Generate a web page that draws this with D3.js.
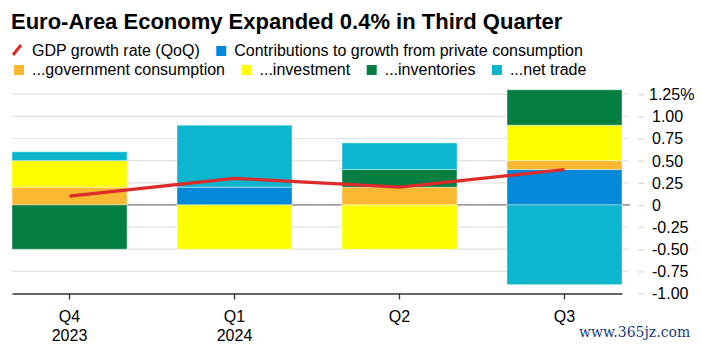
<!DOCTYPE html>
<html>
<head>
<meta charset="utf-8">
<script src="https://cdn.jsdelivr.net/npm/d3@7"></script>
<style>
  body { margin: 0; background: #fff; }
  svg { display: block; font-family: "Liberation Sans", Arial, sans-serif; }
</style>
</head>
<body>
<script>
// data (percentage points)
var quarters = ["Q4", "Q1", "Q2", "Q3"];
var years = ["2023", "2024", "", ""];
var gdp = [0.1, 0.3, 0.2, 0.4];
var privateCons = [0, 0.2, 0, 0.4];
var govCons = [0.2, 0, 0.2, 0.1];
var investment = [0.3, -0.5, -0.5, 0.4];
var inventories = [-0.5, 0, 0.2, 0.4];
var netTrade = [0.1, 0.7, 0.3, -0.9];
var yTicks = [-1, -0.75, -0.5, -0.25, 0, 0.25, 0.5, 0.75, 1, 1.25];

var keys = ["privateCons", "govCons", "investment", "inventories", "netTrade"];
var colors = {
  privateCons: "#0389d9",
  govCons: "#fbb832",
  investment: "#ffff00",
  inventories: "#037f41",
  netTrade: "#0cb6cf"
};
var legendRows = [
  [{type: "line", label: "GDP growth rate (QoQ)"},
   {key: "privateCons", label: "Contributions to growth from private consumption"}],
  [{key: "govCons", label: "...government consumption"},
   {key: "investment", label: "...investment"},
   {key: "inventories", label: "...inventories"},
   {key: "netTrade", label: "...net trade"}]
];

var table = quarters.map(function(q, i) {
  return {q: q, year: years[i], gdp: gdp[i], privateCons: privateCons[i],
          govCons: govCons[i], investment: investment[i],
          inventories: inventories[i], netTrade: netTrade[i]};
});

var W = 702, H = 347;
var svg = d3.select("body").append("svg")
  .attr("width", W).attr("height", H);

// title
svg.append("text")
  .attr("x", 11).attr("y", 29)
  .style("font-size", "22px").style("font-weight", "bold")
  .attr("fill", "#000")
  .text("Euro-Area Economy Expanded 0.4% in Third Quarter");

// legend
legendRows.forEach(function(row, r) {
  var x = 13;
  var base = 56 + r * 19;
  row.forEach(function(item) {
    if (item.type === "line") {
      svg.append("line")
        .attr("x1", x).attr("y1", base - 1)
        .attr("x2", x + 8).attr("y2", base - 11)
        .attr("stroke", "#dd2a2a").attr("stroke-width", 3);
    } else {
      svg.append("rect")
        .attr("x", x + 1).attr("y", base - 10)
        .attr("width", 10).attr("height", 10)
        .attr("fill", colors[item.key]);
    }
    var t = svg.append("text")
      .attr("x", x + 19).attr("y", base)
      .style("font-size", "16px").attr("fill", "#000")
      .text(item.label);
    x = x + 19 + t.node().getComputedTextLength() + 15.5;
  });
});

var x = d3.scaleBand()
  .domain(quarters)
  .range([12, 622])
  .paddingInner(0.303)
  .paddingOuter(0);

var y = d3.scaleLinear()
  .domain([-1, 1.25])
  .range([293.5, 94.2]);

// gridlines
svg.append("g").selectAll("line")
  .data(yTicks.filter(function(d) { return d !== 0 && d !== -1; }))
  .join("line")
  .attr("x1", 12).attr("x2", 628)
  .attr("y1", function(d) { return y(d); })
  .attr("y2", function(d) { return y(d); })
  .attr("stroke", "#e2e2e2").attr("stroke-width", 1.2);

// zero line
svg.append("line")
  .attr("x1", 12).attr("x2", 630)
  .attr("y1", y(0)).attr("y2", y(0))
  .attr("stroke", "#555").attr("stroke-width", 1);

// stacked bars
var series = d3.stack()
  .keys(keys)
  .offset(d3.stackOffsetDiverging)(table);

svg.append("g").selectAll("g")
  .data(series)
  .join("g")
  .attr("fill", function(s) { return colors[s.key]; })
  .selectAll("rect")
  .data(function(s) { return s.filter(function(d) { return d[1] !== d[0]; }); })
  .join("rect")
  .attr("x", function(d) { return x(d.data.q); })
  .attr("width", x.bandwidth())
  .attr("y", function(d) { return y(Math.max(d[0], d[1])); })
  .attr("height", function(d) { return Math.abs(y(d[0]) - y(d[1])); })
  .attr("stroke", "rgba(255,255,255,0.4)")
  .attr("stroke-width", 1);

// GDP line
var line = d3.line()
  .x(function(d) { return x(d.q) + x.bandwidth() / 2; })
  .y(function(d) { return y(d.gdp); });

svg.append("path")
  .datum(table)
  .attr("d", line)
  .attr("fill", "none")
  .attr("stroke", "#dd2a2a")
  .attr("stroke-width", 3.2)
  .attr("stroke-linejoin", "round");

// y axis on the right
var yAxis = svg.append("g")
  .attr("transform", "translate(638,0)")
  .call(d3.axisRight(y).tickValues(yTicks).tickSize(6).tickPadding(8)
    .tickFormat(function(d) {
      if (d === 0) return "0";
      return d3.format(".2f")(d).replace("\u2212", "-") + (d === 1.25 ? "%" : "");
    }));
yAxis.select(".domain").remove();
yAxis.selectAll(".tick line").attr("stroke", "#d8d8d8").attr("stroke-width", 1.2);
yAxis.selectAll(".tick text")
  .style("font-size", "16px").style("font-family", "Liberation Sans, Arial, sans-serif")
  .attr("fill", "#000").attr("dy", "0.34em")
  .attr("x", function(d) { return d === 1.25 ? 11 : 14; });

// x axis
var xAxis = svg.append("g")
  .attr("transform", "translate(0," + y(-1) + ")")
  .call(d3.axisBottom(x).tickSize(6).tickSizeOuter(0).tickFormat(""));
xAxis.select(".domain").attr("stroke", "#333").attr("stroke-width", 1.5);
xAxis.selectAll(".tick line").attr("stroke", "#333").attr("stroke-width", 1.3);

svg.append("g").selectAll("text")
  .data(table)
  .join("text")
  .attr("x", function(d) { return x(d.q) + x.bandwidth() / 2; })
  .attr("y", 322)
  .attr("text-anchor", "middle")
  .style("font-size", "16px").attr("fill", "#000")
  .text(function(d) { return d.q; });

svg.append("g").selectAll("text")
  .data(table.filter(function(d) { return d.year; }))
  .join("text")
  .attr("x", function(d) { return x(d.q) + x.bandwidth() / 2; })
  .attr("y", 341)
  .attr("text-anchor", "middle")
  .style("font-size", "16px").attr("fill", "#000")
  .text(function(d) { return d.year; });

// watermark
svg.append("text")
  .attr("x", 579).attr("y", 337)
  .style("font-family", "DejaVu Serif, serif")
  .style("font-size", "14px")
  .attr("fill", "#1d3b78")
  .text("www.365jz.com");
</script>
</body>
</html>
